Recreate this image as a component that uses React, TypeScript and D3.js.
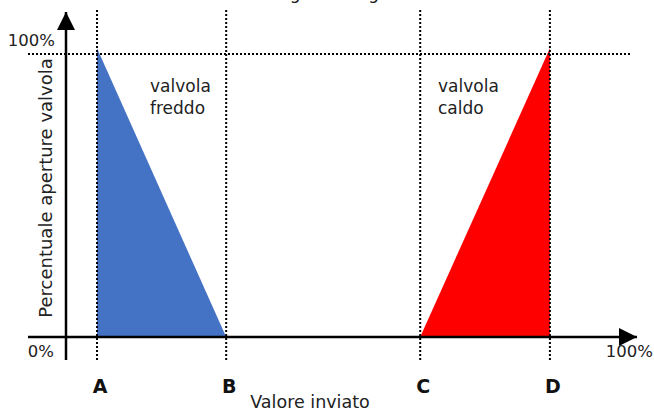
import React from "react";
import * as d3 from "d3";

// valori (percentuale del valore inviato)
const points = ["A", "B", "C", "D"];
const pointValues = [5.5, 28.4, 62.8, 85.8];
const coldValve = [{ x: 5.5, y: 102 }, { x: 28.4, y: 0 }, { x: 5.5, y: 0 }];
const hotValve = [{ x: 62.8, y: 0 }, { x: 85.8, y: 102 }, { x: 85.8, y: 0 }];
const yTickLabels = ["0%", "100%"];

const W = 654;
const H = 412;
const font = "DejaVu Sans, sans-serif";

export default function App() {
  const x = d3.scaleLinear().domain([0, 100]).range([66, 630]);
  const y = d3.scaleLinear().domain([0, 100]).range([337, 54]);

  const area = d3
    .line<{ x: number; y: number }>()
    .x((d) => x(d.x))
    .y((d) => y(d.y));

  return (
    <svg
      width={W}
      height={H}
      style={{ position: "absolute", left: 0, top: 0, background: "#fff" }}
    >
      <defs>
        <marker id="arrowBig" viewBox="0 0 10 10" markerWidth="18" markerHeight="20" refX="10" refY="5" orient="auto" markerUnits="userSpaceOnUse">
          <path d="M0,0 L10,5 L0,10 Z" fill="#000" />
        </marker>
      </defs>

      {/* titolo tagliato in alto */}
      <text x={360} y={-1} textAnchor="middle" fontFamily={font} fontSize={17} fill="#222">
        Logica di regolazione
      </text>

      {/* triangoli */}
      <path d={area(coldValve) + "Z"} fill="#4472c4" />
      <path d={area(hotValve) + "Z"} fill="#ff0000" />

      {/* linee tratteggiate verticali */}
      {pointValues.map((v, i) => (
        <line
          key={points[i]}
          x1={x(v)}
          x2={x(v)}
          y1={10}
          y2={360}
          stroke="#000"
          strokeWidth={2}
          strokeDasharray="2,2"
        />
      ))}
      {/* linea 100% */}
      <line x1={28} x2={630} y1={y(100)} y2={y(100)} stroke="#000" strokeWidth={2} strokeDasharray="2,2" />

      {/* assi */}
      <line x1={66} x2={66} y1={360} y2={12} stroke="#000" strokeWidth={2.5} markerEnd="url(#arrowBig)" />
      <line x1={28} x2={637} y1={y(0)} y2={y(0)} stroke="#000" strokeWidth={2.5} markerEnd="url(#arrowBig)" />

      {/* etichette asse y */}
      <text x={54} y={357} textAnchor="end" fontFamily={font} fontSize={16.5} fill="#222">
        {yTickLabels[0]}
      </text>
      <text x={55} y={46} textAnchor="end" fontFamily={font} fontSize={16.5} fill="#222">
        {yTickLabels[1]}
      </text>
      <text x={653} y={357} textAnchor="end" fontFamily={font} fontSize={16.5} fill="#222">
        {yTickLabels[1]}
      </text>

      {/* lettere A B C D */}
      {pointValues.map((v, i) => (
        <text
          key={"l" + points[i]}
          x={x(v) + 3}
          y={393}
          textAnchor="middle"
          fontFamily={font}
          fontWeight="bold"
          fontSize={19}
          fill="#111"
        >
          {points[i]}
        </text>
      ))}

      <text x={310} y={408} textAnchor="middle" fontFamily={font} fontSize={17.5} fill="#222">
        Valore inviato
      </text>
      <text
        transform="translate(52,188) rotate(-90)"
        textAnchor="middle"
        fontFamily={font}
        fontSize={18}
        fill="#222"
      >
        Percentuale aperture valvola
      </text>

      <text fontFamily={font} fontSize={17} fill="#222">
        <tspan x={150} y={92}>valvola</tspan>
        <tspan x={150} y={114}>freddo</tspan>
      </text>
      <text fontFamily={font} fontSize={17} fill="#222">
        <tspan x={438} y={92}>valvola</tspan>
        <tspan x={438} y={114}>caldo</tspan>
      </text>
    </svg>
  );
}
